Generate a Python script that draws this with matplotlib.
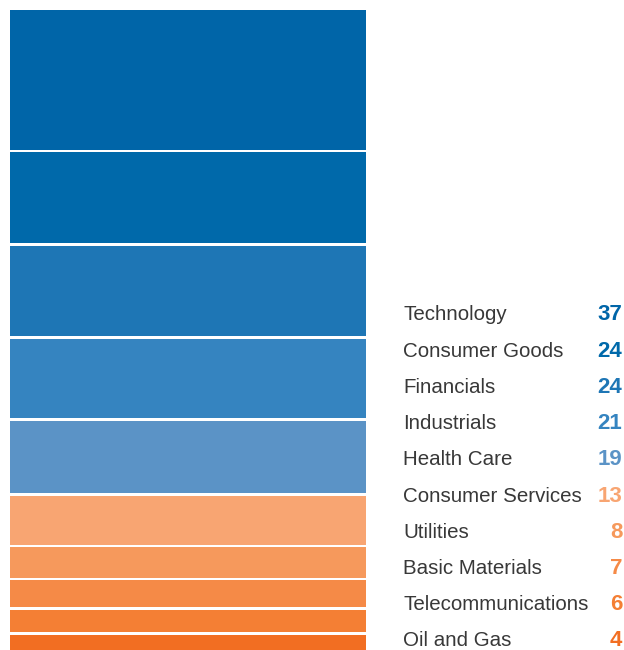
import numpy as np
import matplotlib
matplotlib.use("Agg")
import matplotlib.pyplot as plt

# sector breakdown, top of the stack first
sectors = ["Technology", "Consumer Goods", "Financials", "Industrials", "Health Care",
           "Consumer Services", "Utilities", "Basic Materials", "Telecommunications", "Oil and Gas"]
counts = [37, 24, 24, 21, 19, 13, 8, 7, 6, 4]
colors = ["#0065A8", "#0069AA", "#1E76B5", "#3584C0", "#5B93C6",
          "#F8A572", "#F6995C", "#F58A47", "#F47F34", "#F26E22"]

W, H = 624, 650
fig = plt.figure(figsize=(W / 100, H / 100), dpi=100)

# the stacked column, small white gap between segments
ax = fig.add_axes([10 / W, 0, 356 / W, 640 / H])
vals = np.array(counts)
gap = 0.72
heights = vals + gap
tops = np.cumsum(heights)
bottoms = tops - heights
for v, b, c in zip(vals, bottoms, colors):
    ax.bar(0, v, bottom=b, width=1, color=c, linewidth=0)
ax.set_xlim(-0.5, 0.5)
ax.set_ylim(tops[-1] - gap, 0)
ax.axis("off")

# legend rows on the right
lab = fig.add_axes([0, 0, 1, 1])
lab.set_xlim(0, W)
lab.set_ylim(H, 0)
lab.axis("off")
for i, (name, n, c) in enumerate(zip(sectors, counts, colors)):
    y = 315 + 36.2 * i
    lab.text(403, y, name, ha="left", va="center", fontsize=14.8,
             family="Liberation Sans", color="#383838")
    lab.text(622.5, y, str(n), ha="right", va="center", fontsize=16,
             family="Liberation Sans", fontweight="bold", color=c)

fig.savefig("out.png", dpi=100)
